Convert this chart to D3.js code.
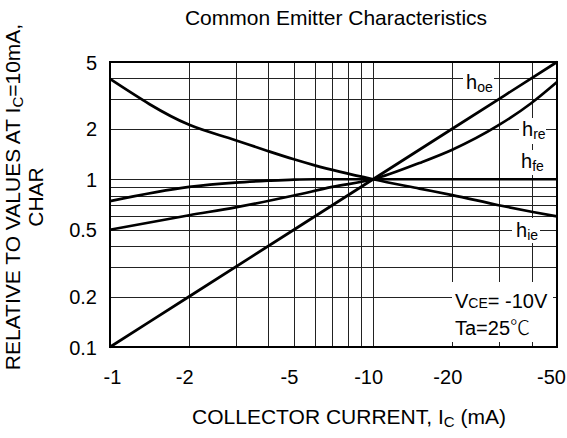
<!DOCTYPE html>
<html>
<head>
<meta charset="utf-8">
<script src="https://cdn.jsdelivr.net/npm/d3@7"></script>
<style>
  html, body { margin: 0; padding: 0; background: #fff; }
  svg { display: block; font-family: "Liberation Sans", Arial, sans-serif; }
</style>
</head>
<body>
<svg id="chart" width="567" height="438"></svg>
<script>
// ---- data ----
const xTicks = [1, 2, 5, 10, 20, 50];
const xTickLabels = ["-1", "-2", "-5", "-10", "-20", "-50"];
const yTicks = [0.1, 0.2, 0.5, 1, 2, 5];
const yTickLabels = ["0.1", "0.2", "0.5", "1", "2", "5"];
const xGrid = [1, 2, 3, 4, 5, 6, 7, 8, 9, 10, 20, 30, 40, 50];
const yGrid = [0.1, 0.2, 0.3, 0.4, 0.5, 0.6, 0.7, 0.8, 0.9, 1, 2, 3, 4, 5];

const hoeX = [1, 2, 5, 10, 20, 50];
const hoeY = [0.1, 0.2, 0.5, 1, 2, 5];
const hreX = [1, 2, 3, 5, 7, 10, 15, 20, 30, 40, 50];
const hreY = [0.5, 0.61, 0.68, 0.80, 0.9, 1, 1.25, 1.5, 2.1, 2.85, 3.8];
const hfeX = [1, 2, 3, 4, 5, 6, 10, 20, 50];
const hfeY = [0.74, 0.9, 0.955, 0.98, 0.995, 1, 1, 1, 1];
const hieX = [1, 2, 3, 4, 5, 6, 10, 15, 20, 30, 40, 50];
const hieY = [3.96, 2.11, 1.71, 1.47, 1.315, 1.21, 1, 0.88, 0.805, 0.70, 0.64, 0.60];

// ---- layout ----
const L = 110, R = 557, T = 62, B = 347;
const svg = d3.select("#chart");
const x = d3.scaleLog().domain([1, 50]).range([L, R]);
const y = d3.scaleLog().domain([0.1, 5]).range([B, T]);
const px = v => Math.round(v) + 0.5;

// grid
const grid = svg.append("g").attr("stroke", "#222").attr("stroke-width", 1).attr("shape-rendering", "crispEdges");
grid.selectAll("line.v").data(xGrid).join("line")
  .attr("x1", d => px(x(d))).attr("x2", d => px(x(d))).attr("y1", T).attr("y2", B);
grid.selectAll("line.h").data(yGrid).join("line")
  .attr("y1", d => px(y(d))).attr("y2", d => px(y(d))).attr("x1", L).attr("x2", R);

// frame
svg.append("rect").attr("x", L).attr("y", T).attr("width", R - L).attr("height", B - T)
  .attr("fill", "none").attr("stroke", "#000").attr("stroke-width", 2);

// curves
const line = d3.line().x(d => x(d[0])).y(d => y(d[1])).curve(d3.curveMonotoneX);
const series = [[hoeX, hoeY], [hreX, hreY], [hfeX, hfeY], [hieX, hieY]];
svg.append("g").selectAll("path").data(series).join("path")
  .attr("d", s => line(s[0].map((v, i) => [v, s[1][i]])))
  .attr("fill", "none").attr("stroke", "#000").attr("stroke-width", 2.7)
  .attr("stroke-linejoin", "round");

// axis tick labels via d3 axes
const xAxis = d3.axisBottom(x).tickValues(xTicks).tickFormat((d, i) => xTickLabels[i]).tickSize(0).tickPadding(0);
const gx = svg.append("g").attr("transform", `translate(0,${B})`).call(xAxis);
gx.select(".domain").remove();
const nX = xTicks.length;
gx.selectAll("text").attr("font-size", 20).attr("fill", "#000").attr("font-family", "Liberation Sans, Arial, sans-serif")
  .attr("dy", null).attr("y", 37).attr("dx", (d, i) => i === 0 ? 2 : (i === nX - 1 ? -6 : -5));

const yAxis = d3.axisLeft(y).tickValues(yTicks).tickFormat((d, i) => yTickLabels[i]).tickSize(0).tickPadding(0);
const gy = svg.append("g").attr("transform", `translate(${L},0)`).call(yAxis);
gy.select(".domain").remove();
gy.selectAll("text").attr("font-size", 20).attr("fill", "#000").attr("font-family", "Liberation Sans, Arial, sans-serif")
  .attr("x", -13).attr("dy", "0.35em");

// curve labels with white background
function hLabel(xl, yb, sub, box) {
  svg.append("rect").attr("x", box[0]).attr("y", box[1]).attr("width", box[2]).attr("height", box[3]).attr("fill", "#fff");
  const t = svg.append("text").attr("x", xl).attr("y", yb).attr("font-size", 20).attr("fill", "#000");
  t.append("tspan").text("h");
  t.append("tspan").attr("font-size", 14).attr("dy", 3).text(sub);
}
hLabel(466, 89, "oe", [463, 70, 31, 25]);
hLabel(522, 136, "re", [519, 118, 27, 26]);
hLabel(521, 168, "fe", [518, 150, 27, 25]);
hLabel(516, 237, "ie", [512, 218, 28, 25]);

// condition box
svg.append("rect").attr("x", 452).attr("y", 282).attr("width", 101).attr("height", 60).attr("fill", "#fff");
const v = svg.append("text").attr("x", 455).attr("y", 308).attr("font-size", 20).attr("fill", "#000");
v.append("tspan").text("V");
v.append("tspan").attr("font-size", 14).text("CE");
v.append("tspan").text("= -10V");
const ta = svg.append("text").attr("x", 455).attr("y", 335).attr("font-size", 20).attr("fill", "#000");
ta.append("tspan").text("Ta=25");
ta.append("tspan").attr("font-family", "Noto Sans CJK SC").attr("font-weight", 300).text("℃");

// title
svg.append("text").attr("x", 336).attr("y", 25).attr("text-anchor", "middle")
  .attr("font-size", 21).attr("fill", "#000").text("Common Emitter Characteristics");

// x label
const xl = svg.append("text").attr("x", 349).attr("y", 424).attr("text-anchor", "middle")
  .attr("font-size", 21).attr("fill", "#000");
xl.append("tspan").text("COLLECTOR CURRENT, I");
xl.append("tspan").attr("font-size", 15).attr("dy", 3).text("C");
xl.append("tspan").attr("dy", -3).text(" (mA)");

// y label
const yl = svg.append("text").attr("transform", "translate(20,197) rotate(-90)").attr("text-anchor", "middle")
  .attr("font-size", 21).attr("fill", "#000");
yl.append("tspan").text("RELATIVE TO VALUES AT I");
yl.append("tspan").attr("font-size", 15).attr("dy", 3).text("C");
yl.append("tspan").attr("dy", -3).text("=10mA,");
svg.append("text").attr("transform", "translate(43,197) rotate(-90)").attr("text-anchor", "middle")
  .attr("font-size", 21).attr("fill", "#000").text("CHAR");
</script>
</body>
</html>
